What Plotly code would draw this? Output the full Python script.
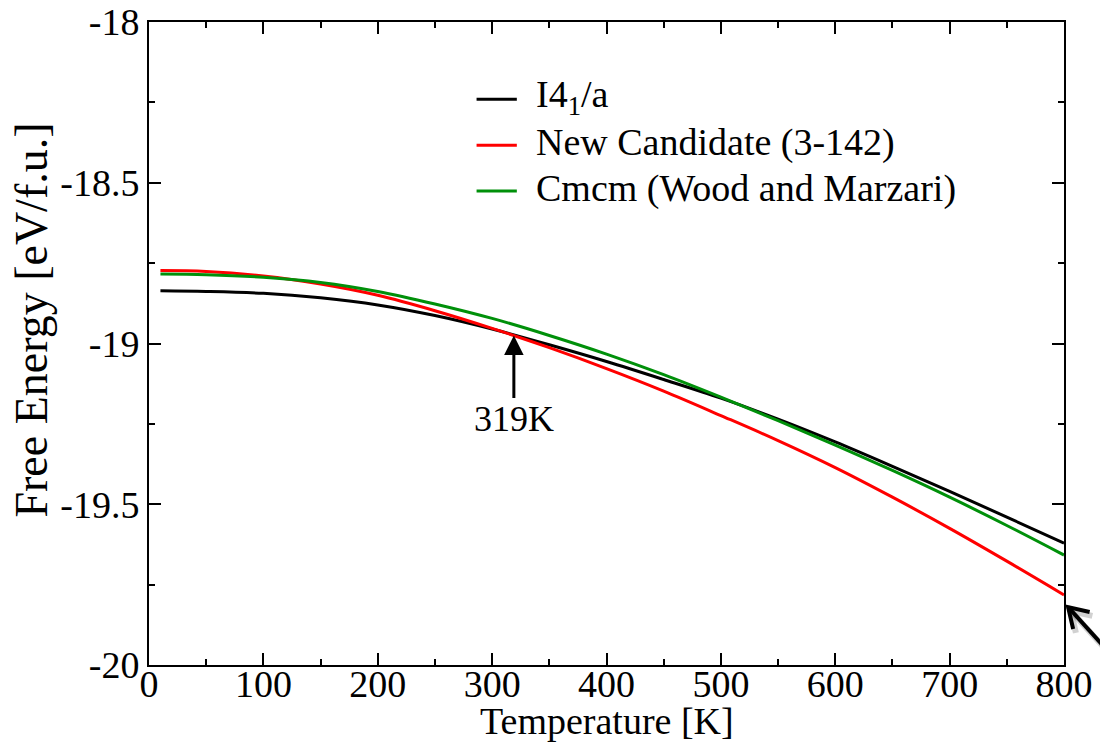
import plotly.graph_objects as go

# Temperature grid [K]
temperature = [10, 50, 100, 150, 200, 250, 300, 350, 400, 450, 500,
               550, 600, 650, 700, 750, 800]

# Free energy per formula unit [eV/f.u.]
f_i41a = [-18.836, -18.838, -18.844, -18.858, -18.880, -18.913, -18.955,
          -19.004, -19.056, -19.112, -19.170, -19.235, -19.306, -19.382,
          -19.460, -19.540, -19.621]
f_new = [-18.773, -18.776, -18.790, -18.815, -18.850, -18.898, -18.953,
         -19.013, -19.078, -19.148, -19.224, -19.302, -19.386, -19.478,
         -19.575, -19.677, -19.782]
f_cmcm = [-18.784, -18.786, -18.794, -18.810, -18.838, -18.877, -18.922,
          -18.975, -19.033, -19.097, -19.167, -19.240, -19.316, -19.395,
          -19.478, -19.566, -19.658]

series_names = ["I4<sub>1</sub>/a", "New Candidate (3-142)",
                "Cmcm (Wood and Marzari)"]
series_colors = ["#000000", "#ff0000", "#00900a"]

# Crossing point of I4_1/a and the new candidate
cross_T = 319
cross_F = -18.975
cross_label = "319K"

x_ticks = [0, 100, 200, 300, 400, 500, 600, 700, 800]
y_ticks = [-20, -19.5, -19, -18.5, -18]
y_tick_text = ["-20", "-19.5", "-19", "-18.5", "-18"]

x_title = "Temperature [K]"
y_title = "Free Energy [eV/f.u.]"

FONT = "Liberation Serif"

fig = go.Figure()
for ys, name, col in zip([f_i41a, f_new, f_cmcm], series_names, series_colors):
    fig.add_trace(go.Scatter(x=temperature, y=ys, mode="lines", name=name,
                             showlegend=False,
                             line=dict(color=col, width=3, shape="spline",
                                       smoothing=1.0)))

axis_common = dict(
    showline=True, linecolor="black", linewidth=2, mirror="ticks",
    ticks="inside", ticklen=12, tickwidth=2, tickcolor="black",
    showgrid=False, zeroline=False, automargin=False,
    tickfont=dict(family=FONT, size=38, color="black"),
)

fig.update_xaxes(
    range=[0, 800], tickvals=x_ticks, ticklabelstandoff=-16,
    minor=dict(ticks="inside", ticklen=6, tickwidth=2, tickcolor="black", dtick=50),
    **axis_common,
)
fig.update_yaxes(
    range=[-20, -18], tickvals=y_ticks, ticktext=y_tick_text,
    minor=dict(ticks="inside", ticklen=6, tickwidth=2, tickcolor="black", dtick=0.25),
    **axis_common,
)

# Axis titles
fig.add_annotation(xref="paper", yref="paper", x=0.5, y=-0.087,
                   text=x_title, showarrow=False,
                   xanchor="center", yanchor="middle",
                   font=dict(family=FONT, size=38, color="black"))
fig.add_annotation(xref="paper", yref="paper", x=-0.128, y=0.537,
                   text=y_title, textangle=-90, showarrow=False,
                   xanchor="center", yanchor="middle",
                   font=dict(family=FONT, size=46, color="black"))

# Legend: short line sample followed by the series label
leg_x0, leg_x1, leg_tx = 0.358, 0.402, 0.421
leg_y0, leg_dy = 0.880, 0.0715
for i, (name, col) in enumerate(zip(series_names, series_colors)):
    yy = leg_y0 - i * leg_dy
    fig.add_shape(type="line", xref="paper", yref="paper",
                  x0=leg_x0, x1=leg_x1, y0=yy, y1=yy,
                  line=dict(color=col, width=3))
    fig.add_annotation(xref="paper", yref="paper", x=leg_tx, y=yy + 0.004,
                       text=name, showarrow=False, xanchor="left", yanchor="middle",
                       font=dict(family=FONT, size=38, color="black"))

# Arrow marking the crossing temperature
fig.add_annotation(
    x=cross_T, y=cross_F, xref="x", yref="y",
    text=cross_label, showarrow=True, ax=0, ay=84,
    arrowhead=2, arrowsize=1.3, arrowwidth=3, arrowcolor="black", standoff=0,
    font=dict(family=FONT, size=36, color="black"),
)

# Pointer arrow at the lower right edge (with soft shadow)
tip = (1.0045, 0.090)
tail = (1.065, -0.005)
arm1 = (tip[0] + 0.0235, tip[1] - 0.0075)
arm2 = (tip[0] + 0.0055, tip[1] - 0.0340)
for dx, dy, col, w in [(0.003, -0.006, "rgba(0,0,0,0.18)", 6), (0, 0, "black", 4)]:
    fig.add_shape(type="path", xref="paper", yref="paper",
                  path=f"M{tail[0]+dx},{tail[1]+dy} L{tip[0]+dx},{tip[1]+dy}",
                  line=dict(color=col, width=w))
    fig.add_shape(type="path", xref="paper", yref="paper",
                  path=(f"M{arm1[0]+dx},{arm1[1]+dy} L{tip[0]+dx},{tip[1]+dy} "
                        f"L{arm2[0]+dx},{arm2[1]+dy}"),
                  line=dict(color=col, width=w))

fig.update_layout(
    width=1100, height=745,
    margin=dict(l=149, r=36, t=22, b=80),
    paper_bgcolor="white", plot_bgcolor="white",
    font=dict(family=FONT, color="black"),
    showlegend=False,
)

fig.write_html("out.html")
